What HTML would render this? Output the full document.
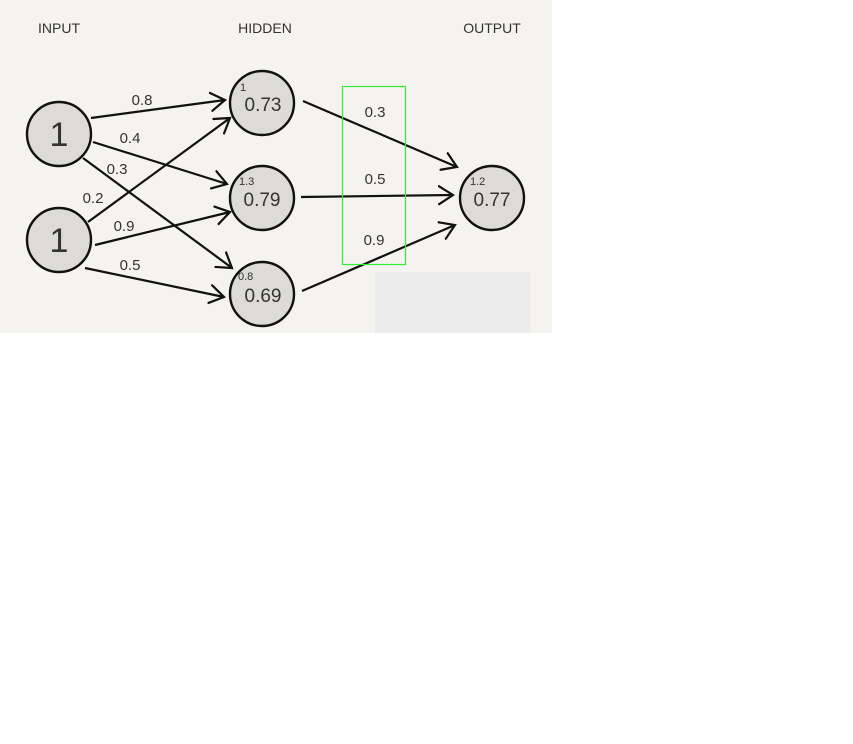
<!DOCTYPE html>
<html><head><meta charset="utf-8"><style>
html,body{margin:0;padding:0;background:#fff;width:853px;height:744px;overflow:hidden}
svg{display:block}
text{font-family:"Liberation Sans",sans-serif;fill:#333}
</style></head><body>
<svg width="853" height="744" viewBox="0 0 853 744">
<defs>
<marker id="a" markerUnits="userSpaceOnUse" markerWidth="20" markerHeight="24" refX="15" refY="10" orient="auto" viewBox="0 0 20 20">
<path d="M1,1 L15,10 L1,19" fill="none" stroke="#111" stroke-width="2.2" stroke-linecap="round"/>
</marker>
</defs>
<rect x="0" y="0" width="552" height="333" fill="#f4f3f0"/>
<rect x="375" y="272" width="156" height="61" fill="#ececec"/>
<text x="59" y="33" font-size="14" text-anchor="middle">INPUT</text>
<text x="265" y="33" font-size="14" text-anchor="middle">HIDDEN</text>
<text x="492" y="33" font-size="14" text-anchor="middle">OUTPUT</text>
<g stroke="#111" stroke-width="2.2" fill="none" marker-end="url(#a)">
<line x1="91" y1="118" x2="225" y2="100"/>
<line x1="93" y1="142" x2="227" y2="184"/>
<line x1="83" y1="158" x2="232" y2="268"/>
<line x1="88" y1="222" x2="230" y2="118"/>
<line x1="95" y1="245" x2="230" y2="212"/>
<line x1="85" y1="268" x2="224" y2="297"/>
<line x1="303" y1="101" x2="457" y2="167"/>
<line x1="301" y1="197" x2="453" y2="195"/>
<line x1="302" y1="291" x2="455" y2="225"/>
</g>
<rect x="342.5" y="86.5" width="63" height="178" fill="none" stroke="#33ee33" stroke-width="1.2"/>
<g fill="#dcdbd8" stroke="#111" stroke-width="2.4">
<circle cx="59" cy="134" r="32"/>
<circle cx="59" cy="240" r="32"/>
<circle cx="262" cy="103" r="32"/>
<circle cx="262" cy="198" r="32"/>
<circle cx="262" cy="294" r="32"/>
<circle cx="492" cy="198" r="32"/>
</g>
<g font-size="34" text-anchor="middle"><text x="59" y="146">1</text><text x="59" y="252">1</text></g>
<g font-size="19" text-anchor="middle">
<text x="263" y="111">0.73</text><text x="262" y="206">0.79</text><text x="263" y="302">0.69</text><text x="492" y="206">0.77</text>
</g>
<g font-size="11">
<text x="240" y="91">1</text><text x="239" y="185">1.3</text><text x="238" y="280">0.8</text><text x="470" y="185">1.2</text>
</g>
<g font-size="15" text-anchor="middle">
<text x="142" y="105">0.8</text><text x="130" y="143">0.4</text><text x="117" y="174">0.3</text><text x="93" y="203">0.2</text>
<text x="124" y="231">0.9</text><text x="130" y="270">0.5</text>
<text x="375" y="117">0.3</text><text x="375" y="184">0.5</text><text x="374" y="245">0.9</text>
</g>
</svg>
</body></html>
